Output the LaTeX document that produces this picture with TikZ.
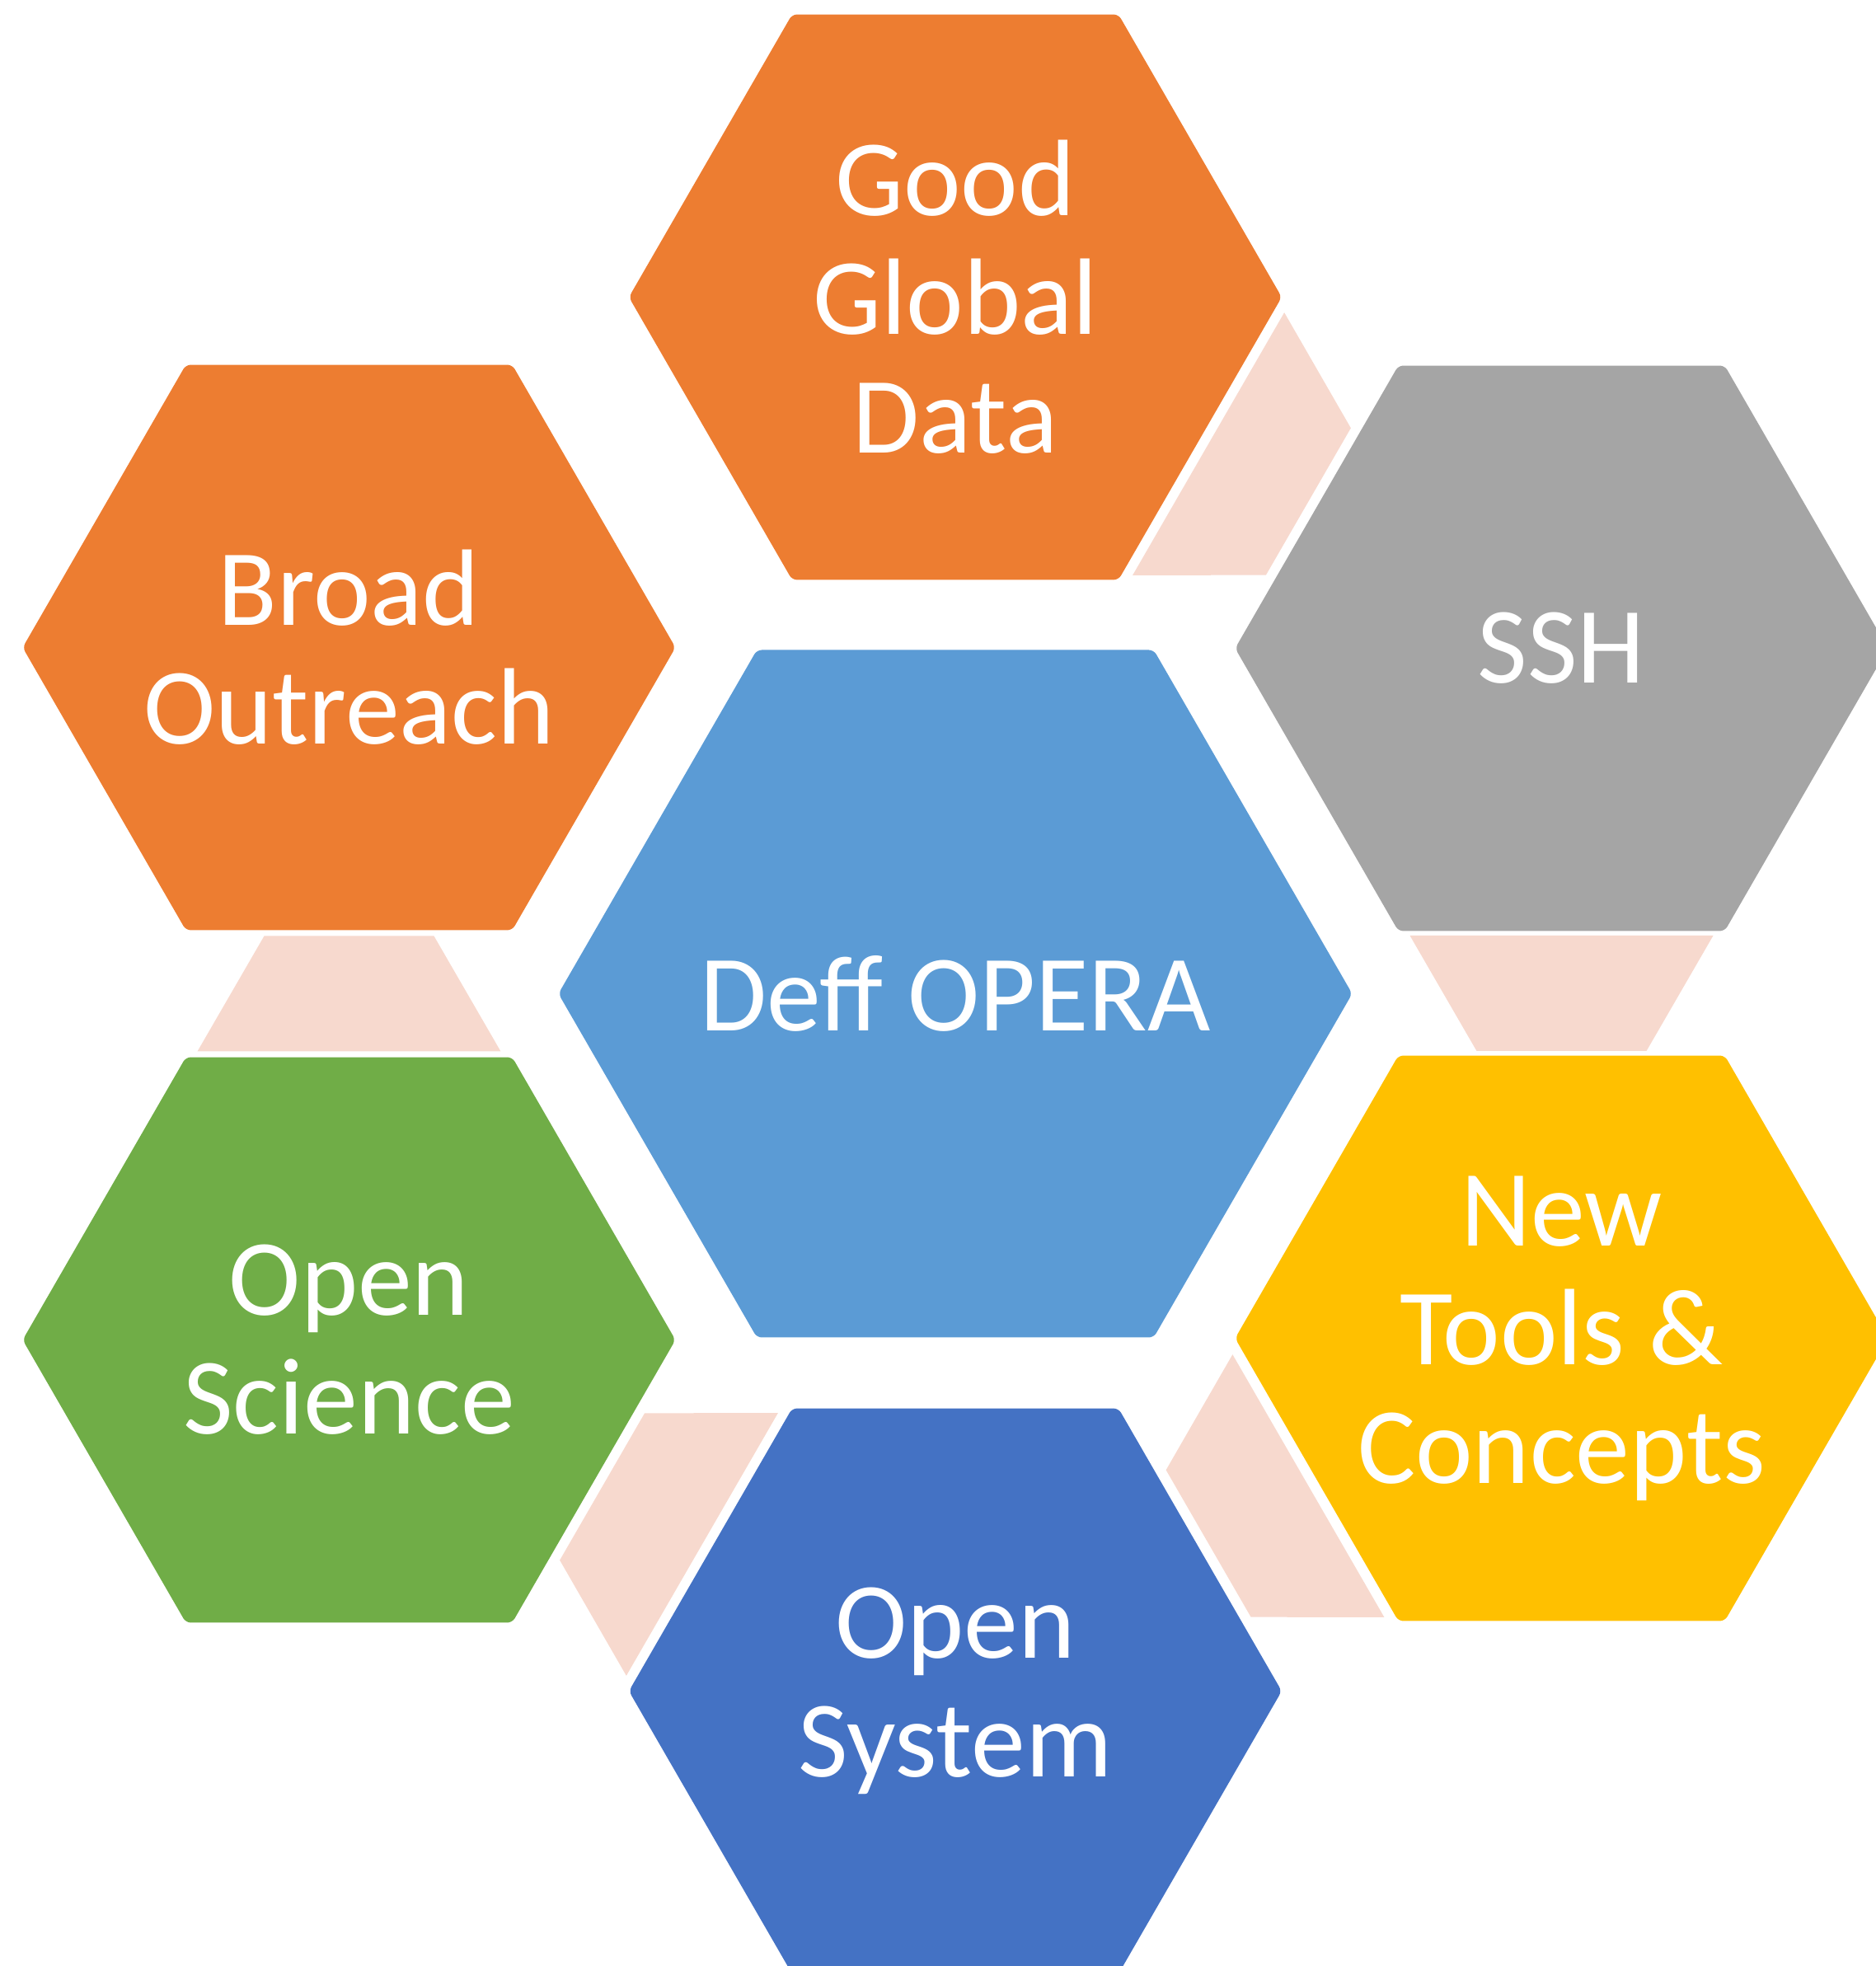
\documentclass[tikz,border=0pt]{standalone}
\usepackage{fontspec}
\setmainfont{Carlito}
\usetikzlibrary{shapes.geometric,calc}
\definecolor{hexorange}{HTML}{ED7D31}
\definecolor{hexgray}{HTML}{A5A5A5}
\definecolor{hexyellow}{HTML}{FFC000}
\definecolor{hexblue}{HTML}{5B9BD5}
\definecolor{hexgreen}{HTML}{70AD47}
\definecolor{hexnavy}{HTML}{4472C4}
\definecolor{linkpink}{HTML}{F7D9CE}
\begin{document}
\begin{tikzpicture}[hex/.style={regular polygon, regular polygon sides=6, minimum size=7.92cm, inner sep=0pt, outer sep=0pt, rounded corners=.6mm},
  every label/.style={text=white, align=center, inner sep=0pt, font=\fontsize{37.5pt}{41pt}\selectfont},
  link/.style={fill=linkpink}]
  \useasboundingbox (-11.59,-11.795) rectangle (11.17,12.055);
  \node[hex, fill=hexblue, minimum size=9.63cm, label=center:Deff OPERA] (0) at (0,0) {};
  \node[hex, fill=hexorange, label=center:Good\\Global\\Data] (1) at (0,8.45) {};
  \node[hex, fill=hexgray, label=center:SSH] (2) at (7.355,4.19) {};
  \node[hex, fill=hexyellow, label=center:New\\Tools \&\\Concepts] (3) at (7.355,-4.18) {};
  \node[hex, fill=hexnavy, label=center:Open\\System] (4) at (0,-8.46) {};
  \node[hex, fill=hexgreen, label=center:Open\\Science] (5) at (-7.355,-4.2) {};
  \node[hex, fill=hexorange, label=center:Broad\\Outreach] (6) at (-7.355,4.2) {};
  \fill[link, shift={($(1)!.5!(2)$)}, rotate=240] (-1.03,.7) -- (1.03,.7) -- (1.84,-.7) -- (-1.84,-.7) -- cycle;
  \fill[link, shift={($(2)!.5!(3)$)}, rotate=180] (-1.03,.7) -- (1.03,.7) -- (1.84,-.7) -- (-1.84,-.7) -- cycle;
  \fill[link, shift={($(3)!.5!(4)$)}, rotate=120] (-1.03,.7) -- (1.03,.7) -- (1.84,-.7) -- (-1.84,-.7) -- cycle;
  \fill[link, shift={($(4)!.5!(5)$)}, rotate=60] (-1.03,.7) -- (1.03,.7) -- (1.84,-.7) -- (-1.84,-.7) -- cycle;
  \fill[link, shift={($(5)!.5!(6)$)}] (-1.03,.7) -- (1.03,.7) -- (1.84,-.7) -- (-1.84,-.7) -- cycle;
\end{tikzpicture}
\end{document}
